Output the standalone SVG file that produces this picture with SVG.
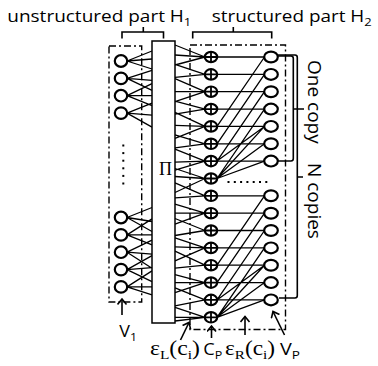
<svg xmlns="http://www.w3.org/2000/svg" width="378" height="366" viewBox="0 0 378 366">
<defs>
<style>
.n{fill:#fff;stroke:#000;stroke-width:2.2}
.x{stroke:#000;stroke-width:1.8;fill:none}
.e{stroke:#000;stroke-width:1.3;fill:none}
.b{stroke:#000;stroke-width:1.6;fill:none}
.dd{stroke:#000;stroke-width:1.4;fill:none;stroke-dasharray:7 3 2 3}
.t{font-family:"Open Sans","Liberation Sans",sans-serif;fill:#000}
.s{font-family:"Liberation Serif","Times New Roman",serif;fill:#000}
.dot{fill:#000}
</style>
<marker id="ah" markerUnits="userSpaceOnUse" markerWidth="12" markerHeight="12" refX="6" refY="5" orient="auto">
<path d="M0.5,0.5 L6,5 L0.5,9.5" fill="none" stroke="#000" stroke-width="1.6"/>
</marker>
</defs>
<rect width="378" height="366" fill="#fff"/>

<!-- header labels and braces -->
<g id="label-h1">
<text class="t" x="7.3" y="22" font-size="16" textLength="184" lengthAdjust="spacingAndGlyphs">unstructured part H<tspan font-size="11" dy="4">1</tspan></text>
<path class="b" d="M122,38.5 V32 H163.5 V38.5 M143.3,32 V27"/>
</g>
<g id="label-h2">
<text class="t" x="211.7" y="22" font-size="16" textLength="160" lengthAdjust="spacingAndGlyphs">structured part H<tspan font-size="11" dy="4">2</tspan></text>
<path class="b" d="M192.7,38.5 V32 H271.7 V38.5 M233.3,32 V27"/>
</g>

<!-- dashed boxes -->
<g id="box-h1"><rect class="dd" x="109" y="46" width="32.7" height="256"/></g>
<g id="box-h2"><rect class="dd" x="190" y="45" width="95.5" height="284.5"/></g>

<!-- connectors -->
<g id="connectors">
<path class="e" d="
M127,61 L152,51 M127,61 L152,59 M127,61 L152,69
M127,78.4 L152,70.4 M127,78.4 L152,80.4 M127,78.4 L152,90.4
M127,95.7 L152,83.7 M127,95.7 L152,95.7 M127,95.7 L152,105.7
M127,113.1 L152,103.1 M127,113.1 L152,115.1 M127,113.1 L152,127.1
M127,217.5 L152,207.5 M127,217.5 L152,221.5 M127,217.5 L152,231.5
M127,234.9 L152,218.9 M127,234.9 L152,234.9 M127,234.9 L152,244.9
M127,252.2 L152,240.2 M127,252.2 L152,254.2 M127,252.2 L152,268.2
M127,269.6 L152,255.6 M127,269.6 L152,267.6 M127,269.6 L152,281.6
M127,286.9 L152,270.9 M127,286.9 L152,286.9 M127,286.9 L152,294.9"/>
<path class="e" d="
M175,45 L205,57 M175,55 L205,57 M175,65 L205,57
M175,64.4 L205,74.4 M175,77.4 L205,74.4
M175,78.7 L205,91.7 M175,91.7 L205,91.7 M175,101.7 L205,91.7
M175,101.1 L205,109.1 M175,114.1 L205,109.1
M175,112.4 L205,126.4 M175,125.4 L205,126.4 M175,138.4 L205,126.4
M175,134.8 L205,143.8 M175,147.8 L205,143.8
M175,149.1 L205,161.1 M175,162.1 L205,161.1 M175,170.1 L205,161.1
M175,168.5 L205,178.5 M175,176.5 L205,178.5 M175,192.5 L205,178.5
M175,182.8 L205,195.8 M175,197.8 L205,195.8
M175,204.2 L205,213.2 M175,213.2 L205,213.2 M175,224.2 L205,213.2
M175,218.5 L205,230.5 M175,235.5 L205,230.5
M175,237.9 L205,247.9 M175,246.9 L205,247.9 M175,260.9 L205,247.9
M175,251.2 L205,265.2 M175,268.2 L205,265.2
M175,274.6 L205,282.6 M175,282.6 L205,282.6 M175,292.6 L205,282.6
M175,287.9 L205,299.9 M175,305.9 L205,299.9
M175,307.3 L205,317.3 M175,317.3 L205,317.3 M175,321 L205,317.3"/>
<path class="e" d="
M217,57 H264.5 M217,74.4 H264.5 M217,91.7 H264.5 M217,109.1 H264.5 M217,126.4 H264.5 M217,143.8 H264.5 M217,161.1 H264.5
M217,195.8 H264.5 M217,213.2 H264.5 M217,230.5 H264.5 M217,247.9 H264.5 M217,265.2 H264.5 M217,282.6 H264.5 M217,299.9 H264.5"/>
<path class="e" d="
M217,126.4 L264.5,57 M217,143.8 L264.5,74.4 M217,161.1 L264.5,91.7 M217,178.5 L264.5,109.1
M217,178.5 L264.5,126.4 M217,178.5 L264.5,143.8 M217,178.5 L264.5,161.1 M217,161.1 L264.5,126.4
M217,265.2 L264.5,195.8 M217,282.6 L264.5,213.2 M217,299.9 L264.5,230.5 M217,317.3 L264.5,247.9
M217,317.3 L264.5,265.2 M217,317.3 L264.5,282.6 M217,317.3 L264.5,299.9 M217,299.9 L264.5,265.2"/>
</g>

<!-- interleaver -->
<g id="pi">
<rect x="152" y="41" width="23" height="282" fill="#fff" stroke="#000" stroke-width="1.5"/>
<text class="s" x="165.5" y="175" font-size="18" text-anchor="middle">Π</text>
</g>

<!-- V1 nodes -->
<g id="v1-0"><ellipse class="n" cx="121" cy="61" rx="6.2" ry="5.8"/></g>
<g id="v1-1"><ellipse class="n" cx="121" cy="78.4" rx="6.2" ry="5.8"/></g>
<g id="v1-2"><ellipse class="n" cx="121" cy="95.7" rx="6.2" ry="5.8"/></g>
<g id="v1-3"><ellipse class="n" cx="121" cy="113.1" rx="6.2" ry="5.8"/></g>
<g id="v1-dots">
<rect class="dot" x="122.3" y="144.5" width="2" height="2"/>
<rect class="dot" x="122.3" y="152.1" width="2" height="2"/>
<rect class="dot" x="122.3" y="159.7" width="2" height="2"/>
<rect class="dot" x="122.3" y="167.3" width="2" height="2"/>
<rect class="dot" x="122.3" y="174.9" width="2" height="2"/>
<rect class="dot" x="122.3" y="182.5" width="2" height="2"/>
</g>
<g id="v1-4"><ellipse class="n" cx="121" cy="217.5" rx="6.2" ry="5.8"/></g>
<g id="v1-5"><ellipse class="n" cx="121" cy="234.9" rx="6.2" ry="5.8"/></g>
<g id="v1-6"><ellipse class="n" cx="121" cy="252.2" rx="6.2" ry="5.8"/></g>
<g id="v1-7"><ellipse class="n" cx="121" cy="269.6" rx="6.2" ry="5.8"/></g>
<g id="v1-8"><ellipse class="n" cx="121" cy="286.9" rx="6.2" ry="5.8"/></g>

<!-- check nodes CP -->
<g id="c0"><ellipse class="n" cx="211" cy="57" rx="6.2" ry="5.2"/><path class="x" d="M204.8,57H217.2M211,51.8V62.2"/></g>
<g id="c1"><ellipse class="n" cx="211" cy="74.4" rx="6.2" ry="5.2"/><path class="x" d="M204.8,74.4H217.2M211,69.2V79.6"/></g>
<g id="c2"><ellipse class="n" cx="211" cy="91.7" rx="6.2" ry="5.2"/><path class="x" d="M204.8,91.7H217.2M211,86.5V96.9"/></g>
<g id="c3"><ellipse class="n" cx="211" cy="109.1" rx="6.2" ry="5.2"/><path class="x" d="M204.8,109.1H217.2M211,103.9V114.3"/></g>
<g id="c4"><ellipse class="n" cx="211" cy="126.4" rx="6.2" ry="5.2"/><path class="x" d="M204.8,126.4H217.2M211,121.2V131.6"/></g>
<g id="c5"><ellipse class="n" cx="211" cy="143.8" rx="6.2" ry="5.2"/><path class="x" d="M204.8,143.8H217.2M211,138.6V149"/></g>
<g id="c6"><ellipse class="n" cx="211" cy="161.1" rx="6.2" ry="5.2"/><path class="x" d="M204.8,161.1H217.2M211,155.9V166.3"/></g>
<g id="c7"><ellipse class="n" cx="211" cy="178.5" rx="6.2" ry="5.2"/><path class="x" d="M204.8,178.5H217.2M211,173.3V183.7"/></g>
<g id="c8"><ellipse class="n" cx="211" cy="195.8" rx="6.2" ry="5.2"/><path class="x" d="M204.8,195.8H217.2M211,190.6V201"/></g>
<g id="c9"><ellipse class="n" cx="211" cy="213.2" rx="6.2" ry="5.2"/><path class="x" d="M204.8,213.2H217.2M211,208V218.4"/></g>
<g id="c10"><ellipse class="n" cx="211" cy="230.5" rx="6.2" ry="5.2"/><path class="x" d="M204.8,230.5H217.2M211,225.3V235.7"/></g>
<g id="c11"><ellipse class="n" cx="211" cy="247.9" rx="6.2" ry="5.2"/><path class="x" d="M204.8,247.9H217.2M211,242.7V253.1"/></g>
<g id="c12"><ellipse class="n" cx="211" cy="265.2" rx="6.2" ry="5.2"/><path class="x" d="M204.8,265.2H217.2M211,260V270.4"/></g>
<g id="c13"><ellipse class="n" cx="211" cy="282.6" rx="6.2" ry="5.2"/><path class="x" d="M204.8,282.6H217.2M211,277.4V287.8"/></g>
<g id="c14"><ellipse class="n" cx="211" cy="299.9" rx="6.2" ry="5.2"/><path class="x" d="M204.8,299.9H217.2M211,294.7V305.1"/></g>
<g id="c15"><ellipse class="n" cx="211" cy="317.3" rx="6.2" ry="5.2"/><path class="x" d="M204.8,317.3H217.2M211,312.1V322.5"/></g>

<!-- VP nodes -->
<g id="vp0"><ellipse class="n" cx="271" cy="57" rx="6.8" ry="5.4"/></g>
<g id="vp1"><ellipse class="n" cx="271" cy="74.4" rx="6.8" ry="5.4"/></g>
<g id="vp2"><ellipse class="n" cx="271" cy="91.7" rx="6.8" ry="5.4"/></g>
<g id="vp3"><ellipse class="n" cx="271" cy="109.1" rx="6.8" ry="5.4"/></g>
<g id="vp4"><ellipse class="n" cx="271" cy="126.4" rx="6.8" ry="5.4"/></g>
<g id="vp5"><ellipse class="n" cx="271" cy="143.8" rx="6.8" ry="5.4"/></g>
<g id="vp6"><ellipse class="n" cx="271" cy="161.1" rx="6.8" ry="5.4"/></g>
<g id="vp-dots">
<rect class="dot" x="227.5" y="181" width="2" height="2"/>
<rect class="dot" x="233.8" y="181" width="2" height="2"/>
<rect class="dot" x="240.1" y="181" width="2" height="2"/>
<rect class="dot" x="246.4" y="181" width="2" height="2"/>
<rect class="dot" x="252.7" y="181" width="2" height="2"/>
<rect class="dot" x="259" y="181" width="2" height="2"/>
<rect class="dot" x="265.3" y="181" width="2" height="2"/>
</g>
<g id="vp7"><ellipse class="n" cx="271" cy="195.8" rx="6.8" ry="5.4"/></g>
<g id="vp8"><ellipse class="n" cx="271" cy="213.2" rx="6.8" ry="5.4"/></g>
<g id="vp9"><ellipse class="n" cx="271" cy="230.5" rx="6.8" ry="5.4"/></g>
<g id="vp10"><ellipse class="n" cx="271" cy="247.9" rx="6.8" ry="5.4"/></g>
<g id="vp11"><ellipse class="n" cx="271" cy="265.2" rx="6.8" ry="5.4"/></g>
<g id="vp12"><ellipse class="n" cx="271" cy="282.6" rx="6.8" ry="5.4"/></g>
<g id="vp13"><ellipse class="n" cx="271" cy="299.9" rx="6.8" ry="5.4"/></g>

<!-- right braces -->
<g id="label-one-copy">
<path class="b" d="M278,56 H291 Q293.3,56 293.3,58.5 V158.5 Q293.3,161 291,161 H278 M293.3,109 H304"/>
<text class="t" font-size="19" transform="translate(308,60) rotate(90)">One copy</text>
</g>
<g id="label-n-copies">
<path class="b" d="M278,55 H295 Q297.3,55 297.3,57.5 V295.5 Q297.3,298 295,298 H279 M297.3,177 H303"/>
<text class="t" font-size="19" transform="translate(308,163) rotate(90)">N copies</text>
</g>

<!-- bottom labels with arrows -->
<g id="label-v1">
<path class="b" d="M122,315 L122,299" marker-end="url(#ah)"/>
<text class="t" x="119.3" y="337" font-size="16" textLength="17.7" lengthAdjust="spacingAndGlyphs">V<tspan font-size="11" dy="4">1</tspan></text>
</g>
<g id="label-el">
<path class="b" d="M180.5,340 L189,322.5" marker-end="url(#ah)"/>
<text class="s" x="150" y="355" font-size="20" textLength="50" lengthAdjust="spacingAndGlyphs">ε<tspan font-size="13" dy="4">L</tspan><tspan dy="-4">(c</tspan><tspan font-size="13" dy="4">i</tspan><tspan dy="-4">)</tspan></text>
</g>
<g id="label-cp">
<path class="b" d="M211.5,338 L211.5,326" marker-end="url(#ah)"/>
<text class="t" x="203.3" y="355" font-size="16" textLength="19" lengthAdjust="spacingAndGlyphs">C<tspan font-size="11" dy="4">P</tspan></text>
</g>
<g id="label-er">
<path class="b" d="M245,335 L245,316.5" marker-end="url(#ah)"/>
<text class="s" x="225" y="355" font-size="20" textLength="50" lengthAdjust="spacingAndGlyphs">ε<tspan font-size="13" dy="4">R</tspan><tspan dy="-4">(c</tspan><tspan font-size="13" dy="4">i</tspan><tspan dy="-4">)</tspan></text>
</g>
<g id="label-vp">
<path class="b" d="M284.5,335 L273,311.5" marker-end="url(#ah)"/>
<text class="t" x="280" y="355" font-size="16" textLength="20" lengthAdjust="spacingAndGlyphs">V<tspan font-size="11" dy="4">P</tspan></text>
</g>
</svg>
